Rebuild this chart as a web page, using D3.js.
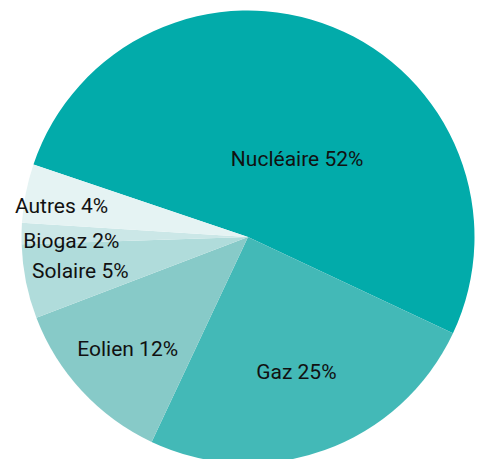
<!DOCTYPE html>
<html>
<head>
<meta charset="utf-8">
<script src="https://cdn.jsdelivr.net/npm/d3@7"></script>
<style>
  body { margin: 0; background: #fff; }
  text { font-family: Roboto, sans-serif; }
</style>
</head>
<body>
<div id="viz"></div>
<script>
  'use strict';

  // energy mix (%), clockwise from Nucléaire
  var categories = ['Nucléaire', 'Gaz', 'Eolien', 'Solaire', 'Biogaz', 'Autres'];
  var values = [51.8, 25.0, 12.2, 5.3, 1.5, 4.2];
  var colors = ['#02abaa', '#43b9b7', '#87cac8', '#b0dcdb', '#cbe7e7', '#e5f3f3'];

  // label placement: radius factor and angle nudge (deg)
  var labelRadius = [0.41, 0.63, 0.725, 0.755, 0.78, 0.835];
  var labelShift = [10, 0, 0, 0, -2.2, -1.5];

  var width = 477, height = 459;
  var cx = 248, cy = 237, r = 226.5;

  var svg = d3.select('#viz')
    .append('svg')
    .attr('width', width)
    .attr('height', height);

  var g = svg.append('g').attr('transform', 'translate(' + cx + ',' + cy + ')');

  var start = -71.3 * Math.PI / 180;
  var pie = d3.pie()
    .sort(null)
    .value(function(d) { return d; })
    .startAngle(start)
    .endAngle(start + 2 * Math.PI);

  var arc = d3.arc().innerRadius(0).outerRadius(r);
  var arcs = pie(values);

  g.selectAll('path')
    .data(arcs)
    .enter()
    .append('path')
    .attr('d', arc)
    .attr('fill', function(d, i) { return colors[i]; });

  g.selectAll('text')
    .data(arcs)
    .enter()
    .append('text')
    .attr('transform', function(d, i) {
      var a = (d.startAngle + d.endAngle) / 2 + labelShift[i] * Math.PI / 180;
      var rr = r * labelRadius[i];
      return 'translate(' + (Math.sin(a) * rr) + ',' + (-Math.cos(a) * rr) + ')';
    })
    .attr('text-anchor', 'middle')
    .attr('dy', '0.35em')
    .style('font-size', '21px')
    .style('fill', '#111')
    .text(function(d, i) { return categories[i] + ' ' + Math.round(d.data) + '%'; });
</script>
</body>
</html>
